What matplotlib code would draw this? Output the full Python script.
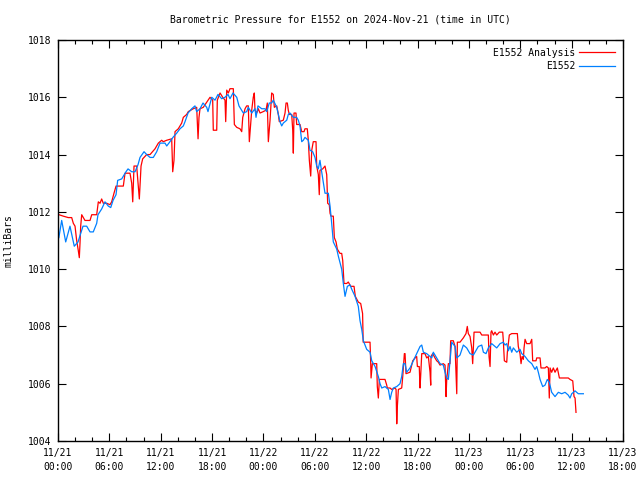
import matplotlib
matplotlib.use('Agg')
import matplotlib.pyplot as plt
import matplotlib.dates as mdates
import numpy as np

# hours after 2024-11-21 00:00 UTC, pressure in mbar
obs_hours = [0.1, 0.43, 0.9, 1.4, 1.9, 2.34, 2.92, 3.35, 3.74, 4.12, 4.52, 4.67, 5.1, 5.49, 5.88, 6.16,
             6.43, 6.78, 6.97, 7.44, 7.94, 8.18, 8.61, 9.0, 9.35, 9.58, 10.05, 10.36, 10.75, 11.13, 11.53,
             11.92, 12.5, 12.7, 13.08, 13.43, 13.87, 14.25, 14.64, 14.84, 15.19, 15.62, 16.0, 16.2, 16.59,
             16.94, 17.37, 17.52, 17.96, 18.34, 18.69, 19.12, 19.5, 19.86, 20.09, 20.44, 20.88, 21.14,
             21.65, 22.04, 22.23, 22.63, 23.01, 23.13, 23.36, 23.8, 24.18, 24.38, 24.68, 24.96, 25.15,
             25.55, 25.74, 25.93, 26.13, 26.32, 26.72, 26.9, 27.1, 27.49, 27.88, 28.07, 28.27, 28.47,
             28.66, 28.85, 29.24, 29.44, 29.75, 30.02, 30.22, 30.41, 30.6, 30.8, 31.19, 31.58, 31.78,
             31.97, 32.16, 32.56, 32.75, 33.14, 33.33, 33.53, 33.8, 34.11, 34.31, 34.7, 35.08, 35.28,
             35.48, 35.67, 36.06, 36.45, 36.65, 37.04, 37.42, 37.62, 37.82, 38.2, 38.59, 38.79, 38.98,
             39.17, 39.57, 39.95, 40.15, 40.34, 40.54, 40.73, 41.12, 41.51, 41.9, 42.29, 42.49, 42.68,
             43.07, 43.46, 43.66, 43.84, 44.24, 44.63, 45.01, 45.21, 45.41, 45.6, 45.79, 45.99, 46.38,
             46.58, 46.96, 47.35, 47.74, 48.13, 48.52, 48.71, 49.1, 49.5, 49.69, 50.0, 50.27, 50.66,
             51.05, 51.25, 51.64, 52.02, 52.22, 52.42, 52.61, 52.8, 53.0, 53.19, 53.59, 53.97, 54.17,
             54.56, 54.94, 55.34, 55.72, 55.92, 56.11, 56.31, 56.62, 56.89, 57.16, 57.39, 57.67, 58.06,
             58.45, 58.84, 59.23, 59.61, 59.81, 60.01, 60.4, 60.78, 61.37]
obs_mbar = [1011.1, 1011.7, 1010.95, 1011.5, 1010.8, 1010.95, 1011.5, 1011.5, 1011.3, 1011.3, 1011.6,
            1011.9, 1012.1, 1012.35, 1012.2, 1012.15, 1012.4, 1012.6, 1013.1, 1013.15, 1013.4, 1013.5,
            1013.4, 1013.4, 1013.65, 1013.9, 1014.1, 1014.0, 1013.9, 1013.9, 1014.1, 1014.4, 1014.4,
            1014.3, 1014.45, 1014.6, 1014.75, 1014.9, 1015.0, 1015.15, 1015.45, 1015.6, 1015.7, 1015.5,
            1015.6, 1015.8, 1015.65, 1015.5, 1016.0, 1015.9, 1016.1, 1015.95, 1016.0, 1016.1, 1015.95,
            1016.15, 1016.0, 1015.7, 1015.45, 1015.5, 1015.65, 1015.45, 1015.6, 1015.3, 1015.7, 1015.6,
            1015.6, 1015.5, 1015.8, 1015.8, 1015.9, 1015.65, 1015.4, 1015.15, 1015.0, 1015.1, 1015.2,
            1015.4, 1015.45, 1015.3, 1015.3, 1015.2, 1015.0, 1014.45, 1014.5, 1014.6, 1014.5, 1014.15,
            1014.1, 1013.9, 1013.6, 1013.5, 1013.8, 1013.4, 1012.65, 1012.65, 1012.2, 1011.6, 1010.95,
            1010.7, 1010.45, 1010.0, 1009.5, 1009.05, 1009.4, 1009.45, 1009.3, 1009.05, 1008.7, 1008.2,
            1007.9, 1007.5, 1007.2, 1007.1, 1006.8, 1006.6, 1006.25, 1006.0, 1005.85, 1005.9, 1005.8,
            1005.45, 1005.7, 1005.85, 1005.9, 1006.0, 1006.25, 1006.7, 1006.7, 1006.4, 1006.55, 1006.8,
            1007.05, 1007.3, 1007.35, 1007.1, 1007.05, 1006.95, 1006.9, 1007.1, 1006.9, 1006.7, 1006.65,
            1006.4, 1006.2, 1006.15, 1006.8, 1007.45, 1007.3, 1006.9, 1007.0, 1007.35, 1007.25, 1007.05,
            1007.0, 1007.1, 1007.3, 1007.35, 1007.1, 1007.05, 1007.25, 1007.4, 1007.3, 1007.25, 1007.4,
            1007.45, 1007.35, 1007.4, 1007.15, 1007.3, 1007.1, 1007.25, 1007.1, 1007.2, 1007.05, 1006.95,
            1006.8, 1006.7, 1006.5, 1006.6, 1006.4, 1006.15, 1005.9, 1005.95, 1006.15, 1006.05, 1005.7,
            1005.55, 1005.7, 1005.65, 1005.7, 1005.6, 1005.5, 1005.65, 1005.75, 1005.65, 1005.65]

ana_hours = [0.12, 0.62, 1.2, 1.6, 1.79, 1.99, 2.18, 2.37, 2.49, 2.57, 2.65, 2.77, 3.15, 3.74, 3.94, 4.52,
             4.71, 4.91, 5.1, 5.29, 5.69, 6.07, 6.27, 6.54, 6.78, 7.24, 7.63, 7.83, 8.41, 8.61, 8.73, 8.88,
             9.19, 9.38, 9.5, 9.58, 9.7, 9.89, 10.36, 10.75, 11.33, 11.72, 12.11, 12.3, 12.7, 13.28, 13.4,
             13.55, 13.67, 14.05, 14.45, 14.64, 15.03, 15.22, 15.8, 16.2, 16.36, 16.47, 16.59, 16.97,
             17.76, 18.07, 18.14, 18.54, 18.61, 18.93, 19.24, 19.51, 19.59, 19.71, 19.9, 20.09, 20.48,
             20.6, 20.88, 21.26, 21.46, 21.58, 21.85, 22.04, 22.23, 22.35, 22.51, 22.63, 22.81, 22.93,
             23.01, 23.21, 23.4, 23.6, 23.98, 24.3, 24.45, 24.57, 24.77, 24.96, 25.15, 25.27, 25.55,
             25.74, 25.85, 26.32, 26.52, 26.64, 26.79, 26.9, 27.02, 27.3, 27.42, 27.49, 27.57, 27.8,
             27.88, 28.27, 28.47, 28.74, 28.85, 29.12, 29.24, 29.36, 29.52, 29.64, 29.82, 30.14, 30.22,
             30.41, 30.52, 30.6, 30.92, 31.19, 31.39, 31.5, 31.69, 31.78, 31.89, 32.16, 32.28, 32.48,
             32.63, 32.94, 33.14, 33.26, 33.41, 33.73, 33.91, 34.19, 34.58, 34.73, 35.08, 35.36, 35.58,
             35.65, 36.25, 36.45, 36.53, 36.57, 36.72, 37.23, 37.3, 37.42, 37.54, 38.2, 38.4, 38.47,
             38.79, 38.98, 39.37, 39.49, 39.57, 39.64, 39.76, 40.15, 40.27, 40.46, 40.54, 40.65, 41.12,
             41.2, 41.44, 41.71, 41.9, 41.98, 42.2, 42.29, 42.37, 42.49, 42.87, 43.07, 43.26, 43.46,
             43.54, 43.57, 43.77, 44.04, 44.24, 44.43, 44.63, 45.01, 45.21, 45.33, 45.41, 45.6, 45.79,
             45.87, 46.18, 46.38, 46.5, 46.58, 46.65, 46.96, 47.35, 47.66, 47.81, 47.93, 48.13, 48.33,
             48.44, 48.6, 49.3, 49.5, 50.27, 50.35, 50.47, 50.58, 50.66, 50.86, 51.05, 51.25, 51.55,
             51.95, 52.02, 52.14, 52.42, 52.49, 52.72, 53.0, 53.39, 53.66, 53.77, 53.97, 54.09, 54.21,
             54.36, 54.44, 54.56, 54.75, 55.14, 55.34, 55.45, 55.84, 55.92, 56.31, 56.42, 56.89, 57.09,
             57.28, 57.39, 57.48, 57.67, 57.86, 58.06, 58.33, 58.57, 59.23, 59.61, 59.81, 60.13, 60.28,
             60.4, 60.51]
ana_mbar = [1011.9, 1011.85, 1011.8, 1011.8, 1011.6, 1011.5, 1011.0, 1010.65, 1010.4, 1010.9, 1011.5,
            1011.9, 1011.7, 1011.7, 1011.9, 1011.9, 1012.35, 1012.3, 1012.45, 1012.3, 1012.3, 1012.25,
            1012.35, 1012.65, 1012.9, 1012.9, 1012.9, 1013.35, 1013.35, 1013.0, 1012.35, 1013.6, 1013.6,
            1012.9, 1012.45, 1012.9, 1013.6, 1013.85, 1014.0, 1014.0, 1014.2, 1014.4, 1014.5, 1014.45,
            1014.5, 1014.55, 1013.4, 1013.8, 1014.8, 1014.9, 1015.1, 1015.3, 1015.4, 1015.5, 1015.6,
            1015.65, 1014.55, 1015.3, 1015.6, 1015.65, 1016.0, 1015.9, 1014.85, 1014.85, 1015.9, 1016.15,
            1016.0, 1015.9, 1015.15, 1016.25, 1016.15, 1016.3, 1016.3, 1015.05, 1014.95, 1014.9, 1014.8,
            1015.3, 1015.6, 1015.7, 1015.7, 1014.45, 1015.1, 1015.55, 1016.0, 1016.15, 1015.55, 1015.45,
            1015.6, 1015.45, 1015.5, 1015.55, 1015.8, 1014.45, 1015.2, 1016.15, 1016.1, 1015.65, 1015.7,
            1015.4, 1015.15, 1015.2, 1015.45, 1015.8, 1015.8, 1015.55, 1015.4, 1015.4, 1014.85, 1014.05,
            1015.45, 1015.45, 1015.05, 1015.05, 1014.8, 1014.8, 1014.9, 1014.9, 1014.5, 1013.8, 1013.25,
            1014.15, 1014.45, 1014.45, 1013.6, 1013.3, 1012.6, 1013.45, 1013.5, 1013.6, 1013.3, 1012.3,
            1012.25, 1011.95, 1011.85, 1011.85, 1011.1, 1010.95, 1010.7, 1010.55, 1010.55, 1010.3,
            1009.5, 1009.5, 1009.55, 1009.4, 1009.4, 1009.05, 1008.85, 1008.8, 1008.45, 1007.45, 1007.45,
            1007.45, 1006.7, 1006.2, 1006.7, 1006.7, 1005.9, 1005.5, 1006.15, 1006.15, 1005.95, 1005.85,
            1005.85, 1005.8, 1005.85, 1005.8, 1004.6, 1005.2, 1005.8, 1005.85, 1006.25, 1007.05, 1007.05,
            1006.35, 1006.4, 1006.5, 1006.8, 1006.9, 1006.95, 1006.6, 1006.6, 1005.85, 1006.3, 1007.05,
            1007.05, 1006.9, 1006.95, 1006.4, 1005.95, 1006.95, 1007.05, 1006.9, 1006.8, 1006.75, 1006.65,
            1006.7, 1006.65, 1005.55, 1006.15, 1006.7, 1006.7, 1007.5, 1007.5, 1007.3, 1006.25, 1005.65,
            1007.45, 1007.45, 1007.6, 1007.75, 1008.0, 1007.75, 1007.65, 1007.25, 1006.7, 1007.8, 1007.8,
            1007.7, 1007.7, 1006.95, 1006.6, 1007.8, 1007.85, 1007.7, 1007.8, 1007.7, 1007.8, 1007.8,
            1007.5, 1006.8, 1006.75, 1007.1, 1007.7, 1007.75, 1007.75, 1007.75, 1007.3, 1007.05, 1006.7,
            1006.95, 1006.85, 1007.25, 1007.55, 1007.4, 1007.4, 1007.55, 1006.8, 1006.8, 1006.9, 1006.9,
            1006.55, 1006.55, 1006.6, 1006.55, 1005.5, 1006.55, 1006.4, 1006.55, 1006.4, 1006.55, 1006.2,
            1006.2, 1006.2, 1006.15, 1006.1, 1005.55, 1005.5, 1005.0]

start = np.datetime64('2024-11-21T00:00')
end = np.datetime64('2024-11-23T18:00')


def to_time(hours):
    return start + (np.array(hours) * 3600).astype('timedelta64[s]')


font = 'DejaVu Sans Mono'
fs = 7

fig = plt.figure(figsize=(6.4, 4.8), dpi=100)
ax = fig.add_axes([58 / 640, 1 - 441 / 480, 565 / 640, 401 / 480])

ax.plot(to_time(ana_hours), ana_mbar, color='#ff0000', linewidth=0.9, label='E1552 Analysis')
ax.plot(to_time(obs_hours), obs_mbar, color='#0080ff', linewidth=0.9, label='E1552')

ax.set_xlim(start, end)
ax.set_ylim(1004, 1018)
ax.set_yticks(np.arange(1004, 1019, 2))
ax.xaxis.set_major_locator(mdates.HourLocator(byhour=[0, 6, 12, 18]))
ax.xaxis.set_minor_locator(mdates.HourLocator(interval=2))
ax.xaxis.set_major_formatter(mdates.DateFormatter('%m/%d\n%H:%M'))

ax.tick_params(which='both', direction='in', top=True, right=True, width=0.8)
ax.tick_params(which='major', length=6, pad=5)
ax.tick_params(which='minor', length=3)
for spine in ax.spines.values():
    spine.set_linewidth(1.0)

for lbl in ax.get_xticklabels() + ax.get_yticklabels():
    lbl.set_fontfamily(font)
    lbl.set_fontsize(fs)
for lbl in ax.get_xticklabels():
    lbl.set_linespacing(1.45)

ax.set_ylabel('milliBars', fontfamily=font, fontsize=fs)
ax.yaxis.set_label_coords(-44 / 565, 0.5)

fig.text(340 / 640, 1 - 19 / 480, 'Barometric Pressure for E1552 on 2024-Nov-21 (time in UTC)',
         ha='center', va='center', fontfamily=font, fontsize=fs)

ax.legend(loc='upper right', frameon=False, markerfirst=False, handlelength=3.7,
          prop={'family': font, 'size': fs}, borderaxespad=0.5, borderpad=0.3,
          labelspacing=0.35, handletextpad=0.4)

fig.savefig('out.png', dpi=100)
